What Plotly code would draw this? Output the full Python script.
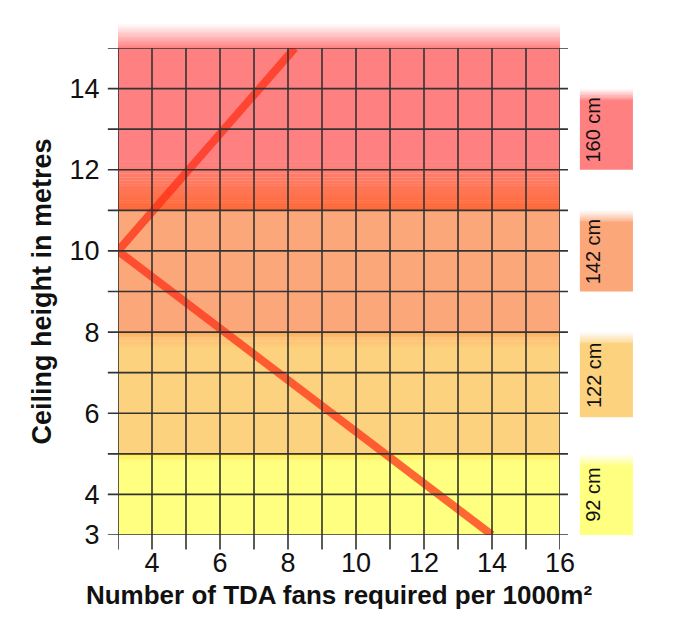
import plotly.graph_objects as go

# data
fans = [8.2, 3, 14]
height = [15, 10, 3]
x_ticks = [4, 6, 8, 10, 12, 14, 16]
y_ticks = [3, 4, 6, 8, 10, 12, 14]
labels = ["160 cm", "142 cm", "122 cm", "92 cm"]
label_lo = [12, 9, 5.9, 3]
label_hi = [14, 11, 8, 5]
label_col = ["#FF8080", "#FCA77A", "#FDD27E", "#FFFF80"]


def mix(c1, c2, t):
    a = [int(c1[i:i + 2], 16) for i in (1, 3, 5)]
    b = [int(c2[i:i + 2], 16) for i in (1, 3, 5)]
    return "rgb(%d,%d,%d)" % tuple(a[k] + (b[k] - a[k]) * t for k in range(3))


shapes = []


def band(y0, y1, c0, c1, xref="x", x0=3, x1=16, yref="y", n=30):
    for i in range(n):
        shapes.append(dict(type="rect", xref=xref, yref=yref, layer="below",
                           x0=x0, x1=x1, y0=y0 + (y1 - y0) * i / n,
                           y1=y0 + (y1 - y0) * (i + 1) / n + (y1 - y0) * 0.02,
                           fillcolor=mix(c0, c1, (i + 0.5) / n), line_width=0))


# background bands
band(3, 4.8, "#FFFF80", "#FFFF80", n=1)
band(4.8, 5, "#FFFF80", "#FFE840", n=6)
band(5, 7.6, "#FDD27E", "#FDD27E", n=1)
band(7.6, 8, "#FDD27E", "#FDB060", n=15)
band(8, 11, "#FCA77A", "#FCA77A", n=1)
band(11, 11.7, "#FF6A38", "#FF7A60", n=15)
band(11.7, 12.2, "#FF7A60", "#FF8080", n=15)
band(12.2, 15, "#FF8080", "#FF8080", n=1)
band(1, 1.05, "#FF8080", "#FFFFFF", yref="paper", n=30)

# right labels
for lo, hi, col in zip(label_lo, label_hi, label_col):
    band(lo, hi - 0.3, col, col, xref="paper", x0=1.045, x1=1.165, n=1)
    band(hi - 0.3, hi, col, "#FFFFFF", xref="paper", x0=1.045, x1=1.165, n=20)

# grid
for v in range(3, 17):
    shapes.append(dict(type="line", xref="x", yref="paper", x0=v, x1=v,
                       y0=-0.03, y1=1.0, line=dict(color="#333", width=1.6)))
for v in range(3, 16):
    shapes.append(dict(type="line", xref="paper", yref="y", x0=-0.023, x1=1.018,
                       y0=v, y1=v, line=dict(color="#333", width=1.6)))

fig = go.Figure(go.Scatter(x=fans, y=height, mode="lines",
                           line=dict(color="rgba(255,45,20,0.72)", width=8)))

for lab, lo, hi in zip(labels, label_lo, label_hi):
    fig.add_annotation(x=1.105, xref="paper", y=(lo + hi) / 2, yref="y", text=lab,
                       textangle=-90, showarrow=False,
                       font=dict(size=20, color="#111", family="Arial"))

fig.update_layout(
    width=680, height=621, shapes=shapes, showlegend=False,
    plot_bgcolor="white", paper_bgcolor="white",
    margin=dict(l=110, r=128, t=40, b=94),
    font=dict(family="Arial", color="#111", size=27),
    xaxis=dict(range=[3, 16], tickvals=x_ticks, showgrid=False, zeroline=False,
               automargin=False, ticks="outside", ticklen=4, tickcolor="rgba(0,0,0,0)",
               title=dict(text="<b>Number of TDA fans required per 1000m²</b>",
                          font=dict(size=26), standoff=8)),
    yaxis=dict(range=[3, 15], tickvals=y_ticks, showgrid=False, zeroline=False,
               automargin=False, ticks="outside", ticklen=12, tickcolor="rgba(0,0,0,0)",
               title=dict(text="<b>Ceiling height in metres</b>",
                          font=dict(size=27), standoff=10)),
)

fig.write_html("out.html")
